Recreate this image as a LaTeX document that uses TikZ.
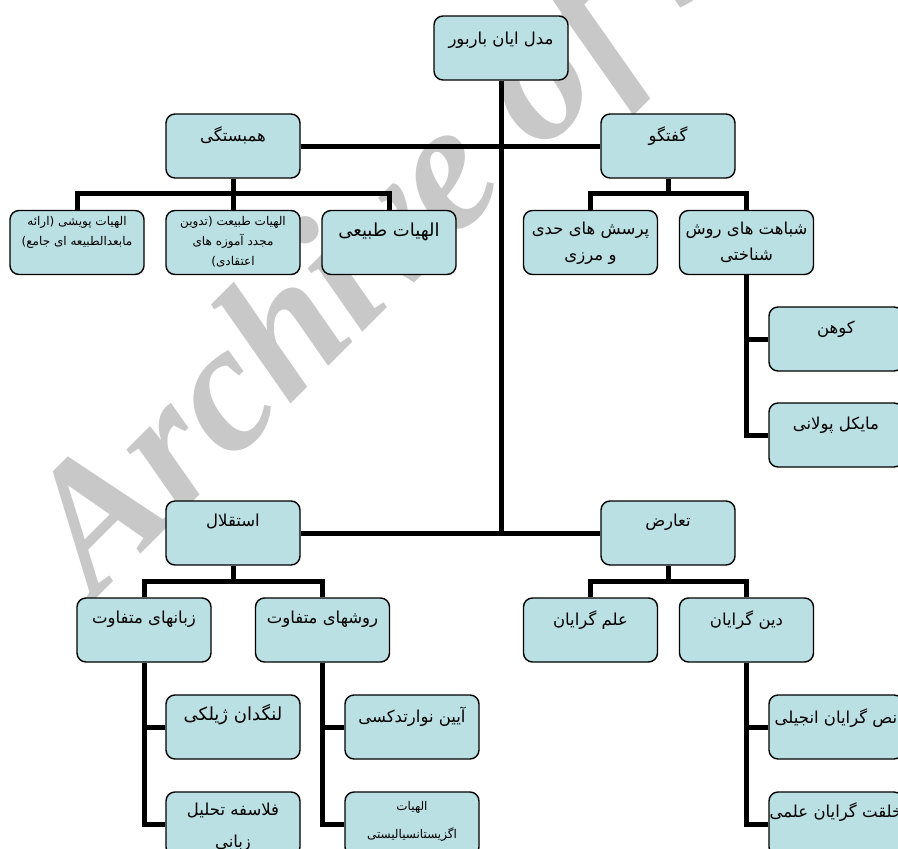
\documentclass[tikz,border=0pt]{standalone}
\usepackage{fontspec}
\TeXXeTstate=1
\newfontfamily\fa[Script=Arabic]{DejaVu Sans}
\newfontfamily\wmfont{Liberation Serif}
\newcommand{\rl}[1]{\beginR #1\endR}
\definecolor{boxfill}{RGB}{187,224,227}
\definecolor{wmgray}{RGB}{200,200,200}
\pgfdeclarelayer{bg}
\pgfsetlayers{bg,main}
\begin{document}
\begin{tikzpicture}[x=1pt,y=-1pt,
  box/.style={draw=black, line width=1.4pt, rounded corners=9pt, fill=boxfill,
    minimum width=134pt, minimum height=64pt, inner sep=0pt},
  conn/.style={line width=5pt, draw=black, line join=miter},
  txt/.style={anchor=north, align=center, inner sep=0pt, font=\fa\fontsize{16.5}{26}\selectfont},
  txtbig/.style={anchor=north, align=center, inner sep=0pt, font=\fa\fontsize{18}{28}\selectfont},
  txtsmall/.style={anchor=north, align=center, inner sep=0pt, font=\fa\fontsize{12}{20}\selectfont},
  wm/.style={anchor=base west, inner sep=0pt, text=wmgray,
    font=\wmfont\bfseries\itshape\fontsize{182}{182}\selectfont}
]
\useasboundingbox (0,0) rectangle (898,849);
\clip (0,0) rectangle (898,849);

% boxes
\node[box] (root) at (501,48) {};
\node[box] (hamb) at (233,146) {};
\node[box] (goft) at (668,146) {};
\node[box] (puyeshi) at (77,242.5) {};
\node[box] (tabiat) at (233,242.5) {};
\node[box] (tabii) at (389,242.5) {};
\node[box] (porsesh) at (590.5,242.5) {};
\node[box] (shabahat) at (746.5,242.5) {};
\node[box] (kuhn) at (836,339) {};
\node[box] (polani) at (836,435) {};
\node[box] (esteq) at (233,533) {};
\node[box] (taaroz) at (668,533) {};
\node[box] (zaban) at (144,630) {};
\node[box] (ravesh) at (322.5,630) {};
\node[box] (elm) at (590.5,630) {};
\node[box] (din) at (746.5,630) {};
\node[box] (langdon) at (233,727) {};
\node[box] (falsafe) at (233,824) {};
\node[box] (ayin) at (412,727) {};
\node[box] (exist) at (412,824) {};
\node[box] (nas) at (836,727) {};
\node[box] (khelqat) at (836,824) {};

\begin{pgfonlayer}{bg}
\node[wm, rotate=45] (wmark) at (95,600) {Archive of SID};
% trunk and main bars
\coordinate (trunkEnd) at (root.south |- esteq.east);
\draw[conn] (root.south) -- (trunkEnd);
\draw[conn] (hamb.east) -- (goft.west);
\draw[conn] (esteq.east) -- (taaroz.west);
% hambastegi children
\coordinate (hambJ) at ([yshift=-15pt]hamb.south);
\draw[conn] (hamb.south) -- (hambJ);
\draw[conn] (hambJ) -| (puyeshi.north);
\draw[conn] (hambJ) -| (tabiat.north);
\draw[conn] (hambJ) -| (tabii.north);
% goftegu children
\coordinate (goftJ) at ([yshift=-15pt]goft.south);
\draw[conn] (goft.south) -- (goftJ);
\draw[conn] (goftJ) -| (porsesh.north);
\draw[conn] (goftJ) -| (shabahat.north);
\draw[conn] (shabahat.south) |- (kuhn.west);
\draw[conn] (shabahat.south) |- (polani.west);
% esteqlal children
\coordinate (esteqJ) at ([yshift=-16pt]esteq.south);
\draw[conn] (esteq.south) -- (esteqJ);
\draw[conn] (esteqJ) -| (zaban.north);
\draw[conn] (esteqJ) -| (ravesh.north);
\draw[conn] (zaban.south) |- (langdon.west);
\draw[conn] (zaban.south) |- (falsafe.west);
\draw[conn] (ravesh.south) |- (ayin.west);
\draw[conn] (ravesh.south) |- (exist.west);
% taaroz children
\coordinate (taarozJ) at ([yshift=-16pt]taaroz.south);
\draw[conn] (taaroz.south) -- (taarozJ);
\draw[conn] (taarozJ) -| (elm.north);
\draw[conn] (taarozJ) -| (din.north);
\draw[conn] (din.south) |- (nas.west);
\draw[conn] (din.south) |- (khelqat.west);
\end{pgfonlayer}

% texts
\node[txt] (rootT) at ([yshift=-16pt]root.north) {\rl{مدل ایان باربور}};
\node[txt] (hambT) at ([yshift=-13pt]hamb.north) {\rl{همبستگی}};
\node[txt] (goftT) at ([yshift=-13pt]goft.north) {\rl{گفتگو}};
\node[txtsmall] (puyeshiT) at ([yshift=-6pt]puyeshi.north) {\rl{الهیات پویشی (ارائه}\\\rl{مابعدالطبیعه ای جامع)}};
\node[txtsmall] (tabiatT) at ([yshift=-6pt]tabiat.north) {\rl{الهیات طبیعت (تدوین}\\\rl{مجدد آموزه های}\\\rl{اعتقادی)}};
\node[txtbig] (tabiiT) at ([yshift=-13pt]tabii.north) {\rl{الهیات طبیعی}};
\node[txt] (porseshT) at ([yshift=-12pt]porsesh.north) {\rl{پرسش های حدی}\\\rl{و مرزی}};
\node[txt] (shabahatT) at ([yshift=-12pt]shabahat.north) {\rl{شباهت های روش}\\\rl{شناختی}};
\node[txt] (kuhnT) at ([yshift=-14pt]kuhn.north) {\rl{کوهن}};
\node[txt] (polaniT) at ([yshift=-14pt]polani.north) {\rl{مایکل پولانی}};
\node[txt] (esteqT) at ([yshift=-13pt]esteq.north) {\rl{استقلال}};
\node[txt] (taarozT) at ([yshift=-13pt]taaroz.north) {\rl{تعارض}};
\node[txt] (zabanT) at ([yshift=-13pt]zaban.north) {\rl{زبانهای متفاوت}};
\node[txt] (raveshT) at ([yshift=-13pt]ravesh.north) {\rl{روشهای متفاوت}};
\node[txt] (elmT) at ([yshift=-13pt]elm.north) {\rl{علم گرایان}};
\node[txt] (dinT) at ([yshift=-13pt]din.north) {\rl{دین گرایان}};
\node[txtbig] (langdonT) at ([yshift=-10pt]langdon.north) {\rl{لنگدان ژیلکی}};
\node[txt] (falsafeT) at ([yshift=-11pt]falsafe.north) {\rl{فلاسفه تحلیل}\\[6pt]\rl{زبانی}};
\node[txt] (ayinT) at ([yshift=-12pt]ayin.north) {\rl{آیین نوارتدکسی}};
\node[txtsmall] (existT) at ([yshift=-10pt]exist.north) {\rl{الهیات}\\[8pt]\rl{اگزیستانسیالیستی}};
\node[txt] (nasT) at ([yshift=-14pt]nas.north) {\rl{نص گرایان انجیلی}};
\node[txt] (khelqatT) at ([yshift=-11pt]khelqat.north) {\rl{خلقت گرایان علمی}};
\end{tikzpicture}
\end{document}
